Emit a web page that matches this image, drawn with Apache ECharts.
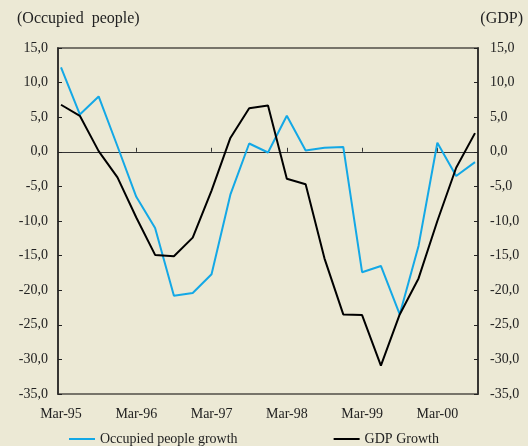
<!DOCTYPE html>
<html>
<head>
<meta charset="utf-8">
<style>
  html, body { margin: 0; padding: 0; background: #ECE9D5; }
  #chart { width: 528px; height: 446px; }
</style>
<script src="https://cdn.jsdelivr.net/npm/echarts@6/dist/echarts.min.js"></script>
</head>
<body>
<div id="chart"></div>
<script>
// quarterly, Mar-95 .. Sep-00
const quarters = [
  'Mar-95', 'Jun-95', 'Sep-95', 'Dec-95',
  'Mar-96', 'Jun-96', 'Sep-96', 'Dec-96',
  'Mar-97', 'Jun-97', 'Sep-97', 'Dec-97',
  'Mar-98', 'Jun-98', 'Sep-98', 'Dec-98',
  'Mar-99', 'Jun-99', 'Sep-99', 'Dec-99',
  'Mar-00', 'Jun-00', 'Sep-00',
];
const occupiedGrowth = [
  12.2, 5.4, 8.0, 0.8,
  -6.5, -11.0, -20.8, -20.4,
  -17.7, -6.2, 1.2, -0.1,
  5.2, 0.2, 0.6, 0.7,
  -17.4, -16.5, -23.5, -13.6,
  1.3, -3.5, -1.5,
];
const gdpGrowth = [
  6.8, 5.2, 0.1, -3.7,
  -9.5, -14.9, -15.1, -12.4,
  -5.6, 2.0, 6.3, 6.7,
  -3.9, -4.7, -15.4, -23.5,
  -23.6, -30.9, -23.5, -18.3,
  -10.0, -2.3, 2.7,
];
const yTicks = [-35, -30, -25, -20, -15, -10, -5, 0, 5, 10, 15];
const labelIdx = [0, 4, 8, 12, 16, 20];
const tickIdx = [4, 8, 12, 16, 20];

const font = '"Liberation Serif", "DejaVu Serif", serif';
const fmt = v => v.toFixed(1).replace('.', ',');
const pairs = arr => arr.map((v, i) => [i, v]);

const chart = echarts.init(document.getElementById('chart'));

const yAxisBase = {
  type: 'value',
  min: yTicks[0],
  max: yTicks[yTicks.length - 1],
  interval: 5,
  axisLine: { show: true, onZero: false, lineStyle: { color: '#222', width: 1.5 } },
  axisTick: { show: true, inside: true, length: 4, lineStyle: { color: '#222' } },
  axisLabel: { formatter: fmt, color: '#222', fontFamily: font, fontSize: 14 },
  splitLine: { show: false },
};

chart.setOption({
  backgroundColor: '#ECE9D5',
  animation: false,
  title: [
    {
      text: '(Occupied  people)',
      left: 12,
      top: 6,
      textStyle: { fontFamily: font, fontSize: 16, fontWeight: 'normal', color: '#222' },
    },
    {
      text: '(GDP)',
      right: 0,
      top: 6,
      textStyle: { fontFamily: font, fontSize: 16, fontWeight: 'normal', color: '#222' },
    },
  ],
  grid: {
    left: 58,
    right: 50,
    top: 48,
    bottom: 52,
    show: true,
    borderColor: '#77746a',
    borderWidth: 2,
    backgroundColor: 'transparent',
  },
  legend: {
    top: 427,
    left: 64,
    itemGap: 96,
    icon: 'rect',
    itemWidth: 26,
    itemHeight: 2,
    textStyle: { fontFamily: font, fontSize: 14, color: '#222' },
  },
  xAxis: [
    {
      // zero line with the year ticks
      type: 'value',
      min: -0.16,
      max: 22.16,
      axisLine: { show: true, onZero: true, lineStyle: { color: '#333', width: 1 } },
      axisTick: { show: true, inside: true, length: 4, customValues: tickIdx, lineStyle: { color: '#333' } },
      axisLabel: { show: false },
      splitLine: { show: false },
    },
    {
      type: 'value',
      position: 'bottom',
      min: -0.16,
      max: 22.16,
      axisLine: { show: false, onZero: false },
      axisTick: { show: false },
      axisLabel: {
        customValues: labelIdx,
        formatter: v => quarters[Math.round(v)],
        color: '#222',
        fontFamily: font,
        fontSize: 14,
        margin: 13,
      },
      splitLine: { show: false },
    },
  ],
  yAxis: [
    { ...yAxisBase, position: 'left', axisLabel: { ...yAxisBase.axisLabel, margin: 10 } },
    { ...yAxisBase, position: 'right', axisLabel: { ...yAxisBase.axisLabel, margin: 12 } },
  ],
  series: [
    {
      name: 'Occupied people growth',
      type: 'line',
      data: pairs(occupiedGrowth),
      symbol: 'none',
      lineStyle: { color: '#13A8E6', width: 2 },
      itemStyle: { color: '#13A8E6' },
    },
    {
      name: 'GDP Growth',
      type: 'line',
      data: pairs(gdpGrowth),
      symbol: 'none',
      lineStyle: { color: '#000', width: 2 },
      itemStyle: { color: '#000' },
    },
  ],
});
</script>
</body>
</html>
